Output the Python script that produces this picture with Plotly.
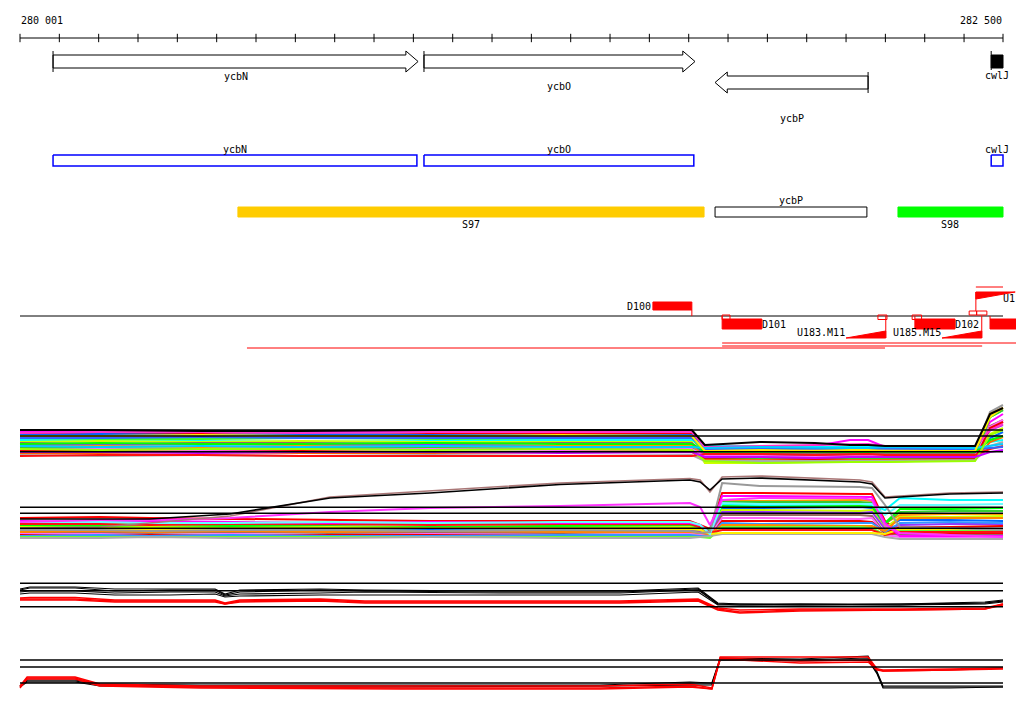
import plotly.graph_objects as go

# ---------------- data ----------------
RULER_START = 280001
RULER_END = 282500
RULER_LABELS = ["280 001", "282 500"]
TICK_STEP = 100

GENE_NAMES = ["ycbN", "ycbO", "ycbP", "cwlJ"]
GENE_START = [280085, 281028, 281768, 282470]
GENE_END = [281013, 281717, 282157, 282500]
GENE_STRAND = [1, 1, -1, 1]

CDS_NAMES = ["ycbN", "ycbO", "cwlJ"]
CDS_START = [280085, 281028, 282470]
CDS_END = [281010, 281714, 282500]

SEG_NAMES = ["S97", "ycbP", "S98"]
SEG_START = [280555, 281768, 282233]
SEG_END = [281740, 282154, 282500]

BOX_NAMES = ["D100", "D101", "D102", ""]
BOX_START = [281610, 281786, 282276, 282467]
BOX_END = [281709, 281887, 282378, 282553]
BOX_SIDE = [1, -1, -1, -1]

FLAG_START = [281786, 282182, 282269, 282414, 282433]
FLAG_END = [281806, 282205, 282293, 282433, 282459]
FLAG_SIDE = [-1, -1, -1, 1, 1]

RAMP_NAMES = ["U183.M11", "U185.M15", "U1"]
RAMP_START = [282101, 282345, 282431]
RAMP_END = [282202, 282446, 282531]
RAMP_SIDE = [-1, -1, 1]

SPAN_START = [281786, 281786, 280578]
SPAN_END = [282553, 282447, 282200]

# panel A (upper multi-probe track)
A_X = [280001, 280204, 280459, 280713, 281043, 281374, 281709, 281742,
       281882, 282022, 282111, 282157, 282200, 282429, 282467, 282500]
A_SERIES = {
    "#FF00FF": [41, 41, 41, 40, 41, 41, 41, 25, 25, 26, 32, 32, 25, 25, 50, 58],
    "#FF0000": [38, 39, 38, 37, 38, 38, 39, 24, 25, 25, 24, 24, 24, 24, 42, 50],
    "#0066FF": [37, 38, 37, 38, 37, 37, 37, 22, 23, 22, 23, 22, 23, 22, 34, 40],
    "#999999": [35, 35, 34, 34, 35, 35, 34, 21, 21, 22, 21, 21, 22, 21, 60, 67],
    "#33FF33": [33, 33, 33, 34, 33, 32, 33, 20, 20, 20, 20, 21, 20, 19, 55, 62],
    "#00FFFF": [32, 31, 31, 30, 31, 32, 32, 26, 26, 25, 25, 25, 25, 26, 30, 32],
    "#CCFF00": [30, 31, 30, 31, 30, 30, 30, 9, 9, 10, 10, 10, 10, 13, 38, 44],
    "#996666": [29, 28, 29, 29, 28, 29, 29, 19, 18, 19, 19, 19, 18, 18, 46, 52],
    "#9933FF": [27, 27, 28, 27, 27, 26, 27, 17, 17, 16, 17, 17, 17, 17, 42, 47],
    "#FF9900": [25, 26, 25, 26, 25, 26, 26, 15, 14, 15, 15, 15, 14, 15, 58, 64],
    "#33CC33": [24, 24, 23, 24, 24, 23, 24, 14, 13, 13, 14, 14, 13, 14, 55, 62],
    "#FF66FF": [22, 23, 22, 22, 23, 22, 23, 16, 16, 15, 16, 16, 16, 16, 45, 52],
    "#EE0000": [21, 21, 20, 21, 20, 20, 21, 13, 12, 13, 12, 12, 12, 13, 44, 50],
    "#FF6600": [19, 19, 20, 19, 19, 20, 20, 12, 12, 11, 12, 12, 12, 12, 30, 35],
    "#AAAAAA": [17, 16, 17, 16, 17, 16, 17, 11, 11, 11, 11, 11, 11, 12, 26, 30],
    "#FF1111": [16, 17, 17, 16, 16, 16, 16, 18, 18, 17, 18, 18, 17, 17, 23, 26],
    "#3366FF": [34, 34, 35, 34, 34, 34, 34, 23, 23, 24, 23, 23, 24, 23, 24, 25],
    "#FF33CC": [39, 40, 40, 39, 40, 40, 40, 25, 26, 27, 28, 28, 26, 25, 42, 48],
    "#00FF00": [28, 29, 28, 28, 29, 28, 28, 20, 21, 20, 20, 20, 21, 20, 32, 36],
    "#00CCFF": [26, 25, 26, 25, 26, 25, 25, 24, 25, 24, 24, 24, 25, 24, 26, 28],
    "#99FF00": [23, 22, 23, 23, 22, 23, 22, 11, 9, 10, 10, 10, 10, 11, 37, 42],
    "#FFEE00": [36, 36, 37, 36, 36, 37, 36, 21, 22, 21, 22, 22, 21, 21, 55, 64],
    "#CC00FF": [20, 20, 19, 20, 20, 19, 20, 15, 15, 14, 15, 15, 15, 15, 20, 22],
    "#000000": [42, 42, 41, 41, 42, 42, 42, 27, 30, 29, 27, 27, 26, 26, 58, 64],
}
A_REF = [42, 36, 20.3]

# panel B (lower multi-probe track)
B_X = [280001, 280204, 280331, 280535, 280789, 281043, 281374, 281704, 281730,
       281755, 281786, 281882, 282136, 282167, 282200, 282238, 282365, 282500]
B_SERIES = {
    "#FF0000": [27, 28, 27, 26, 25, 24, 24, 24, 20, 16, 52, 52, 51, 51, 24, 13, 12, 12],
    "#FF9900": [22, 22, 21, 22, 21, 22, 21, 22, 19, 14, 45, 44, 45, 44, 22, 30, 31, 31],
    "#33CC33": [20, 20, 21, 20, 20, 21, 20, 20, 18, 15, 43, 43, 43, 42, 21, 33, 34, 34],
    "#00FFFF": [17, 18, 17, 18, 17, 17, 18, 17, 16, 12, 40, 40, 39, 40, 35, 47, 45, 45],
    "#0066FF": [15, 15, 16, 15, 15, 16, 15, 15, 14, 11, 37, 37, 38, 37, 18, 25, 25, 24],
    "#00FF00": [19, 19, 18, 19, 18, 18, 19, 18, 17, 13, 39, 38, 39, 38, 22, 36, 36, 37],
    "#CCFF00": [18, 17, 18, 17, 18, 17, 17, 18, 16, 10, 35, 35, 34, 35, 17, 28, 28, 29],
    "#9933FF": [14, 13, 14, 13, 14, 13, 14, 14, 13, 12, 33, 33, 32, 33, 16, 20, 21, 21],
    "#996666": [12, 12, 12, 13, 12, 12, 12, 13, 12, 10, 30, 30, 30, 29, 12, 10, 10, 10],
    "#FF66FF": [11, 11, 10, 11, 10, 11, 10, 11, 10, 9, 27, 27, 26, 27, 10, 8, 8, 8],
    "#EE0000": [10, 9, 10, 9, 10, 10, 9, 9, 9, 8, 24, 24, 24, 23, 12, 18, 18, 19],
    "#3399FF": [9, 10, 9, 10, 9, 9, 10, 10, 9, 9, 22, 21, 22, 22, 13, 22, 23, 22],
    "#FF8800": [13, 14, 13, 14, 13, 14, 13, 13, 12, 11, 20, 20, 19, 19, 14, 27, 27, 27],
    "#66FF33": [8, 8, 8, 8, 8, 8, 8, 8, 8, 7, 18, 18, 18, 17, 10, 14, 14, 14],
    "#AAAAAA": [7, 7, 8, 7, 7, 8, 7, 7, 8, 9, 11, 11, 11, 11, 8, 6, 6, 6],
    "#FF1111": [21, 21, 20, 21, 21, 20, 21, 21, 18, 12, 15, 15, 15, 15, 10, 13, 13, 13],
    "#FFEE00": [16, 16, 16, 16, 16, 17, 16, 16, 15, 11, 12, 12, 12, 12, 11, 16, 16, 16],
    "#FF00FF": [24, 23, 24, 23, 22, 23, 22, 22, 20, 12, 49, 49, 48, 48, 22, 9, 9, 9],
    "#66FFFF": [23, 23, 22, 22, 23, 22, 23, 23, 20, 11, 42, 41, 41, 41, 30, 40, 40, 41],
    "#999999": [15, 15, 14, 15, 15, 14, 15, 14, 12, 13, 62, 59, 58, 57, 40, 18, 17, 15],
    "#FF33FF": [23, 25, 25, 27, 33, 37, 39, 42, 38, 20, 45, 47, 47, 45, 20, 12, 10, 8],
    "#AA7777": [17, 18, 22, 29, 48, 54, 62, 66.5, 65, 53, 68, 69, 65, 63, 48, 49, 52, 53],
    "#000000": [26, 26, 26, 31, 47, 52, 60.5, 65, 63, 55, 66, 67, 63, 61, 47, 48, 51, 52],
}
B_REF = [37.7, 31.7, 16.7]

# panel C (black / red replicate track)
C_X = [280001, 280026, 280141, 280242, 280382, 280497, 280522, 280560, 280764, 280878,
       281221, 281526, 281725, 281775, 281831, 281984, 282238, 282454, 282500]
C_BLACK = [
    [31, 33, 33, 31, 31, 31, 26, 30, 31, 30, 29, 29, 32, 17, 16, 16, 16, 18, 20],
    [30, 32, 32, 29, 30, 30, 25, 28, 30, 29, 28, 28, 31, 16, 15, 16, 15, 17, 19],
    [28, 29, 29, 27, 28, 28, 24, 26, 27, 28, 27, 27, 30, 16, 16, 15, 16, 17, 19],
    [26, 27, 27, 25, 25, 26, 23, 24, 25, 25, 25, 25, 28, 15, 15, 15, 15, 16, 18],
]
C_RED = [
    [22, 22.5, 22.5, 20, 20, 20, 17, 20, 21, 19, 19, 19, 21, 12, 10, 11, 11, 12, 16],
    [21, 21, 21, 19, 19, 19, 16, 19, 20, 18, 18, 18, 20, 11, 8, 10, 10, 11, 16],
    [20, 20, 20, 18, 18, 18, 16, 18, 19, 17, 17, 17, 19, 10, 7, 9, 10, 11, 15],
]
C_REF = [36.7, 29.3, 13.3]

# panel D (black / red replicate track)
D_X = [280001, 280019, 280141, 280204, 280459, 280967, 281475, 281704,
       281760, 281781, 281984, 282157, 282180, 282195, 282365, 282500]
D_BLACK = [
    [9, 15, 15, 11, 10, 10, 10, 13, 12, 37, 36, 39, 23, 9, 9, 9],
    [9, 14, 14, 10, 9, 9, 9, 11, 11, 36, 35, 37, 22, 8, 8, 8],
    [8, 13, 13, 9, 8, 8, 9, 10, 10, 35, 34, 35, 21, 7, 7, 8],
]
D_RED = [
    [9, 18, 18, 11, 9, 9, 9, 11, 7, 38, 38, 38, 26, 25, 26, 27],
    [8, 17, 17, 10, 8, 7, 7, 9, 6, 37, 34, 35, 26, 24, 25, 27],
    [7, 16, 16, 9, 7, 6, 6, 8, 6, 36, 32, 33, 25, 24, 25, 26],
]
D_REF = [35, 28, 12]

# ---------------- layout helpers ----------------
PAGE_W, PAGE_H = 1024, 714
OFF = 8                      # page margin of the html body
W, H = PAGE_W - 2 * OFF, 690
PX_LEFT, PX_RIGHT = 20, 1003  # page pixels of the ruler ends
BP_PER_PX = (RULER_END - RULER_START) / (PX_RIGHT - PX_LEFT)
X_RANGE = [RULER_START - (PX_LEFT - OFF) * BP_PER_PX,
           RULER_END + (OFF + W - PX_RIGHT) * BP_PER_PX]
FONT = dict(family="DejaVu Sans Mono", size=10, color="black")
RED = "#FF0000"

fig = go.Figure()


def poly(xs, ys, fill, line, width=1.0):
    fig.add_trace(go.Scatter(x=xs, y=ys, mode="lines", fill="toself", fillcolor=fill,
                             line=dict(color=line, width=width), hoverinfo="skip"))


def seg(xs, ys, color, width=1.0, yaxis="y"):
    fig.add_trace(go.Scatter(x=xs, y=ys, mode="lines", yaxis=yaxis,
                             line=dict(color=color, width=width), hoverinfo="skip"))


def label(x, y, text, xanchor="center"):
    fig.add_annotation(x=x, y=y, xref="x", yref="y", text=text, showarrow=False,
                       font=FONT, xanchor=xanchor, yanchor="middle", borderpad=0)


# ruler
seg([RULER_START, RULER_END], [38, 38], "black", 1)
ticks = list(range(RULER_START, RULER_END, TICK_STEP)) + [RULER_END]
fig.add_trace(go.Scatter(x=ticks, y=[38] * len(ticks), mode="markers", hoverinfo="skip",
                         marker=dict(symbol="line-ns-open", size=6, color="black",
                                     line=dict(color="black", width=1))))
label(RULER_START, 20, RULER_LABELS[0], "left")
label(RULER_END, 20, RULER_LABELS[1], "right")

# gene arrows
HEAD = 31
GENE_ROWS = {1: (55, 68), -1: (76, 89)}
GENE_LABEL_Y = {"ycbN": 76, "ycbO": 86, "ycbP": 118, "cwlJ": 75}
for name, s, e, st in zip(GENE_NAMES, GENE_START, GENE_END, GENE_STRAND):
    top, bot = GENE_ROWS[st]
    mid = (top + bot) / 2
    if e - s < 2 * HEAD:
        poly([s, e, e, s, s], [top, top, bot, bot, top], "black", "black")
        seg([s, s], [top - 4, bot + 2], "black", 1)
    elif st == 1:
        h = e - HEAD
        poly([s, h, h, e, h, h, s, s], [top, top, top - 4, mid, bot + 4, bot, bot, top],
             "white", "black")
        seg([s, s], [top - 4, bot + 4], "black", 1)
    else:
        h = s + HEAD
        poly([e, h, h, s, h, h, e, e], [top, top, top - 4, mid, bot + 4, bot, bot, top],
             "white", "black")
        seg([e, e], [top - 4, bot + 4], "black", 1)
    label((s + e) / 2, GENE_LABEL_Y[name], name)

# CDS boxes
for name, s, e in zip(CDS_NAMES, CDS_START, CDS_END):
    poly([s, e, e, s, s], [155, 155, 166, 166, 155], "white", "#0000FF", 1.5)
    label((s + e) / 2, 149, name)

# segments
SEG_STYLE = {"S97": ("#FFCC00", "#FFCC00", 224),
             "ycbP": ("white", "black", 200),
             "S98": ("#00FF00", "#00FF00", 224)}
for name, s, e in zip(SEG_NAMES, SEG_START, SEG_END):
    fill, line, ly = SEG_STYLE[name]
    poly([s, e, e, s, s], [207, 207, 217, 217, 207], fill, line, 1)
    label((s + e) / 2, ly, name)

# red feature track
BASE = 316
seg([RULER_START, RULER_END], [BASE, BASE], "black", 1)
for name, s, e, side in zip(BOX_NAMES, BOX_START, BOX_END, BOX_SIDE):
    if side == 1:
        poly([s, e, e, s, s], [302, 302, 310, 310, 302], RED, RED, 1)
        seg([e, e], [310, BASE], RED, 1)
        if name:
            label(s - 3, 306, name, "right")
    else:
        poly([s, e, e, s, s], [319, 319, 329, 329, 319], RED, RED, 1)
        seg([s, s], [BASE, 319], RED, 1)
        if name:
            label(e - 2, 324, name, "left")
for s, e, side in zip(FLAG_START, FLAG_END, FLAG_SIDE):
    y0, y1 = (BASE - 1, 319.5) if side == -1 else (311, BASE - 1)
    fig.add_trace(go.Scatter(x=[s, e, e, s, s], y=[y0, y0, y1, y1, y0], mode="lines",
                             line=dict(color=RED, width=1), hoverinfo="skip"))
for name, s, e, side in zip(RAMP_NAMES, RAMP_START, RAMP_END, RAMP_SIDE):
    if side == -1:
        poly([s, e, e, s], [338, 338, 331, 338], RED, RED, 1)
        seg([e, e], [BASE, 338], RED, 1)
        label(s - 1, 332, name, "right")
    else:
        poly([s, e, s, s], [292, 292, 299, 292], RED, RED, 1)
        seg([s, s], [292, 311], RED, 1)
        seg([s, RULER_END], [287, 287], RED, 1)
        # keep the label inside the visible page
        fig.add_annotation(x=X_RANGE[1], y=298, xref="x", yref="y", text=name,
                           showarrow=False, font=FONT, xanchor="right",
                           yanchor="middle", borderpad=0)
for s, e, y in zip(SPAN_START, SPAN_END, [343, 346, 348]):
    seg([s, e], [y, y], RED, 1)

# probe panels
for color, vals in A_SERIES.items():
    seg(A_X, vals, color, 2, "y2")
for r in A_REF:
    seg([RULER_START, RULER_END], [r, r], "black", 1.6, "y2")

for color, vals in B_SERIES.items():
    seg(B_X, vals, color, 1.6 if color in ("#000000", "#AA7777") else 2, "y3")
for r in B_REF:
    seg([RULER_START, RULER_END], [r, r], "black", 1.6, "y3")

for vals in C_BLACK:
    seg(C_X, vals, "black", 1.2, "y4")
for vals in C_RED:
    seg(C_X, vals, RED, 1.4, "y4")
for r in C_REF:
    seg([RULER_START, RULER_END], [r, r], "black", 1.5, "y4")

for vals in D_BLACK:
    seg(D_X, vals, "black", 1.2, "y5")
for vals in D_RED:
    seg(D_X, vals, RED, 1.4, "y5")
for r in D_REF:
    seg([RULER_START, RULER_END], [r, r], "black", 1.5, "y5")


def dom(top_px, bot_px):
    """page-pixel band -> paper fraction of the figure"""
    return [1 - (bot_px - OFF) / H, 1 - (top_px - OFF) / H]


fig.update_layout(
    width=W, height=H, margin=dict(l=0, r=0, t=0, b=0),
    paper_bgcolor="white", plot_bgcolor="rgba(0,0,0,0)", showlegend=False,
    xaxis=dict(range=X_RANGE, visible=False, domain=[0, 1]),
    yaxis=dict(range=[OFF + H, OFF], visible=False, domain=[0, 1]),
    yaxis2=dict(range=[0, 77], domain=dom(395, 472), visible=False, anchor="x"),
    yaxis3=dict(range=[0, 73], domain=dom(472, 545), visible=False, anchor="x"),
    yaxis4=dict(range=[0, 45], domain=dom(575, 620), visible=False, anchor="x"),
    yaxis5=dict(range=[0, 45], domain=dom(650, 695), visible=False, anchor="x"),
)

fig.write_html("out.html")
